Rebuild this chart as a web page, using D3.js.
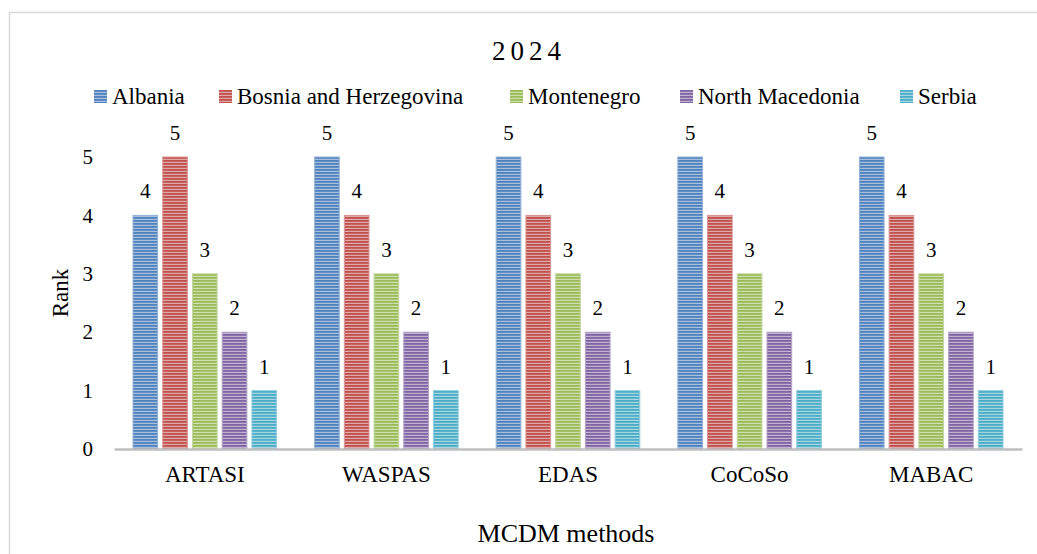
<!DOCTYPE html>
<html>
<head>
<meta charset="utf-8">
<script src="https://cdn.jsdelivr.net/npm/d3@7"></script>
<style>
  body { margin: 0; background: #fff; }
  text { font-family: "Liberation Serif", "Times New Roman", serif; fill: #000; }
</style>
</head>
<body>
<div id="plot"></div>
<script>
// Data
const methods = ['ARTASI', 'WASPAS', 'EDAS', 'CoCoSo', 'MABAC'];
const countries = ['Albania', 'Bosnia and Herzegovina', 'Montenegro', 'North Macedonia', 'Serbia'];
const albania = [4, 5, 5, 5, 5];
const bosnia = [5, 4, 4, 4, 4];
const montenegro = [3, 3, 3, 3, 3];
const northMacedonia = [2, 2, 2, 2, 2];
const serbia = [1, 1, 1, 1, 1];
const yTicks = [0, 1, 2, 3, 4, 5];

const seriesValues = [albania, bosnia, montenegro, northMacedonia, serbia];
const colors = ['#4f81bd', '#c0504d', '#9bbb59', '#8064a2', '#4bacc6'];

const W = 1037, H = 554;
const margin = { top: 157, right: 15, bottom: 105, left: 114 };
const width = W - margin.left - margin.right;
const height = 449 - margin.top;

const svg = d3.select('#plot').append('svg').attr('width', W).attr('height', H);

// chart border
svg.append('rect')
  .attr('x', 9.5).attr('y', 12.5)
  .attr('width', W + 10).attr('height', H)
  .attr('fill', '#fff').attr('stroke', '#d9d9d9').attr('stroke-width', 1.5);

// striped patterns per series
const defs = svg.append('defs');
colors.forEach((c, i) => {
  const p = defs.append('pattern')
    .attr('id', 'stripe' + i)
    .attr('patternUnits', 'userSpaceOnUse')
    .attr('width', 8).attr('height', 3);
  p.append('rect').attr('width', 8).attr('height', 3).attr('fill', d3.interpolateRgb(c, '#fff')(0.5));
  p.append('rect').attr('y', 0).attr('width', 8).attr('height', 1.8).attr('fill', c);
});

const g = svg.append('g').attr('transform', `translate(${margin.left},${margin.top})`);

const x0 = d3.scaleBand().domain(methods).range([0, width]).paddingInner(0).paddingOuter(0);
const x1 = d3.scaleBand().domain(countries).range([19, x0.bandwidth() - 19]).paddingInner(0.17).paddingOuter(0);
const y = d3.scaleLinear().domain([0, 5]).range([height, 0]);

// y tick labels (no axis line)
const yAxis = g.append('g')
  .call(d3.axisLeft(y).tickValues(yTicks).tickSize(0).tickPadding(21).tickFormat(d3.format('d')));
yAxis.select('.domain').remove();
yAxis.selectAll('text').style('font-size', '21px').style('font-family', '"Liberation Serif", serif');

// bars
const groups = g.selectAll('g.method')
  .data(methods)
  .enter().append('g')
  .attr('class', 'method')
  .attr('transform', (d) => `translate(${x0(d)},0)`);

groups.selectAll('rect.bar')
  .data((m, mi) => countries.map((c, ci) => ({ country: c, ci, value: seriesValues[ci][mi] })))
  .enter().append('rect')
  .attr('class', 'bar')
  .attr('x', (d) => x1(d.country))
  .attr('y', (d) => y(d.value))
  .attr('width', x1.bandwidth())
  .attr('height', (d) => height - y(d.value))
  .attr('fill', (d) => `url(#stripe${d.ci})`)
  .attr('stroke', (d) => d3.interpolateRgb(colors[d.ci], '#fff')(0.4))
  .attr('stroke-width', 1);

groups.selectAll('text.val')
  .data((m, mi) => countries.map((c, ci) => ({ country: c, ci, value: seriesValues[ci][mi] })))
  .enter().append('text')
  .attr('class', 'val')
  .attr('x', (d) => x1(d.country) + x1.bandwidth() / 2)
  .attr('y', (d) => y(d.value) - 17)
  .attr('text-anchor', 'middle')
  .style('font-size', '21px')
  .text((d) => d.value);

// x axis line and labels
const xAxis = g.append('g')
  .attr('transform', `translate(0,${height})`)
  .call(d3.axisBottom(x0).tickSize(0).tickPadding(17));
xAxis.select('.domain').attr('stroke', '#bfbfbf').attr('stroke-width', 2.5);
xAxis.selectAll('text').style('font-size', '23px').style('font-family', '"Liberation Serif", serif');

// title
svg.append('text')
  .attr('x', 529).attr('y', 60)
  .attr('text-anchor', 'middle')
  .style('font-size', '27px')
  .style('letter-spacing', '5px')
  .text('2024');

// legend
const legendX = [94, 219, 510, 680, 900];
const legend = svg.append('g').selectAll('g')
  .data(countries)
  .enter().append('g')
  .attr('transform', (d, i) => `translate(${legendX[i]},90)`);
legend.append('rect')
  .attr('width', 13).attr('height', 13)
  .attr('fill', (d, i) => `url(#stripe${i})`);
legend.append('text')
  .attr('x', 18).attr('y', 14)
  .style('font-size', '23px')
  .text((d) => d);

// axis titles
svg.append('text')
  .attr('transform', 'translate(68,293) rotate(-90)')
  .attr('text-anchor', 'middle')
  .style('font-size', '23px')
  .text('Rank');

svg.append('text')
  .attr('x', 566).attr('y', 542)
  .attr('text-anchor', 'middle')
  .style('font-size', '26px')
  .text('MCDM methods');
</script>
</body>
</html>
